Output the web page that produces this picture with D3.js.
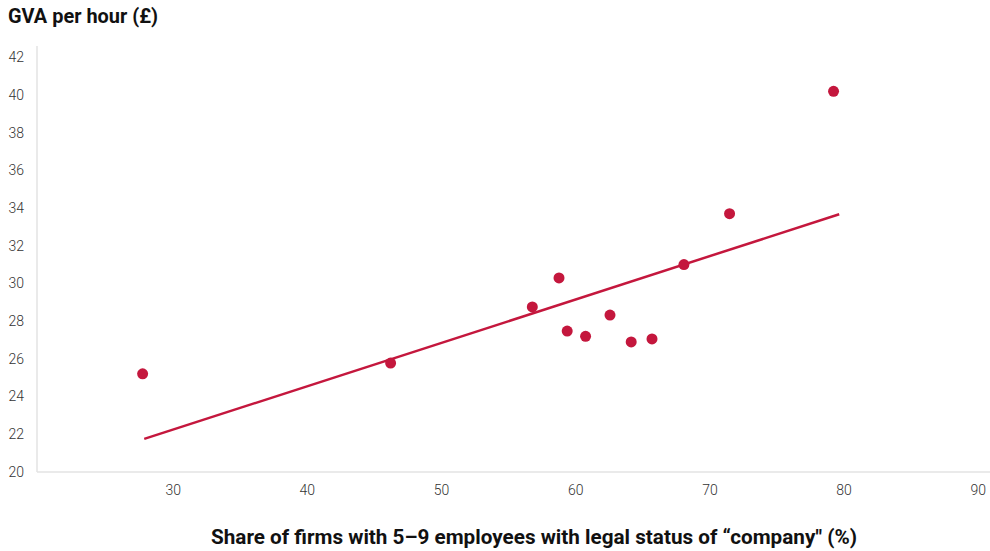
<!DOCTYPE html>
<html><head><meta charset="utf-8">
<script src="https://cdn.jsdelivr.net/npm/d3@7"></script>
<style>
html,body{margin:0;padding:0;background:#fff;}
svg{display:block;font-family:Roboto,"Noto Sans",sans-serif;}
</style></head>
<body>
<svg id="chart" width="990" height="551"></svg>
<script>
// Data
const shareCompany = [27.76, 46.24, 56.8, 58.79, 59.40, 60.77, 62.59, 64.17, 65.72, 68.1, 71.5, 79.25];
const gvaPerHour   = [25.2, 25.77, 28.75, 30.29, 27.47, 27.19, 28.32, 26.89, 27.05, 31.0, 33.70, 40.2];
const trendX = [27.88, 79.67];
const trendY = [21.74, 33.67];
const xTicks = [30, 40, 50, 60, 70, 80, 90];
const yTicks = [20, 22, 24, 26, 28, 30, 32, 34, 36, 38, 40, 42];
const yTitle = "GVA per hour (£)";
const xTitle = "Share of firms with 5–9 employees with legal status of “company\" (%)";

const svg = d3.select("#chart");
const red = "#c4173d";

const x = d3.scaleLinear().domain([20, 90]).range([38.5, 977.8]);
const y = d3.scaleLinear().domain([20, 42]).range([471.7, 57.4]);

// axis lines
svg.append("line").attr("x1", 37).attr("x2", 990).attr("y1", 472).attr("y2", 472)
  .attr("stroke", "#e3e3e3").attr("stroke-width", 1.5);
svg.append("line").attr("x1", 37).attr("x2", 37).attr("y1", 46).attr("y2", 472)
  .attr("stroke", "#e3e3e3").attr("stroke-width", 1.5);

// y tick labels
const yAxis = d3.axisLeft(y).tickValues(yTicks).tickSize(0).tickPadding(0);
const gy = svg.append("g").attr("transform", "translate(24,0)").call(yAxis);
gy.select(".domain").remove();
gy.selectAll("text").attr("font-size", 14).attr("fill", "#333").attr("font-family", "Roboto").attr("font-weight", 300);

// x tick labels
const xAxis = d3.axisBottom(x).tickValues(xTicks).tickSize(0).tickPadding(0);
const gx = svg.append("g").attr("transform", "translate(0,485)").call(xAxis);
gx.select(".domain").remove();
gx.selectAll("text").attr("font-size", 14).attr("fill", "#333").attr("font-family", "Roboto").attr("font-weight", 300);

// trend line
const pts = trendX.map((v, i) => [v, trendY[i]]);
svg.append("path").datum(pts)
  .attr("d", d3.line().x(d => x(d[0])).y(d => y(d[1])))
  .attr("stroke", red).attr("stroke-width", 2.5).attr("fill", "none");

// points
svg.selectAll("circle.pt").data(shareCompany.map((v, i) => [v, gvaPerHour[i]]))
  .join("circle").attr("class", "pt")
  .attr("cx", d => x(d[0])).attr("cy", d => y(d[1])).attr("r", 5.5)
  .attr("fill", red);

// titles
svg.append("text").attr("x", 8).attr("y", 23).text(yTitle)
  .attr("font-size", 19.5).attr("font-weight", 700).attr("fill", "#111")
  .attr("textLength", 150).attr("lengthAdjust", "spacingAndGlyphs");
svg.append("text").attr("x", 211).attr("y", 544).text(xTitle)
  .attr("font-size", 19.5).attr("font-weight", 700).attr("fill", "#111")
  .attr("textLength", 646).attr("lengthAdjust", "spacingAndGlyphs");
</script>
</body></html>
